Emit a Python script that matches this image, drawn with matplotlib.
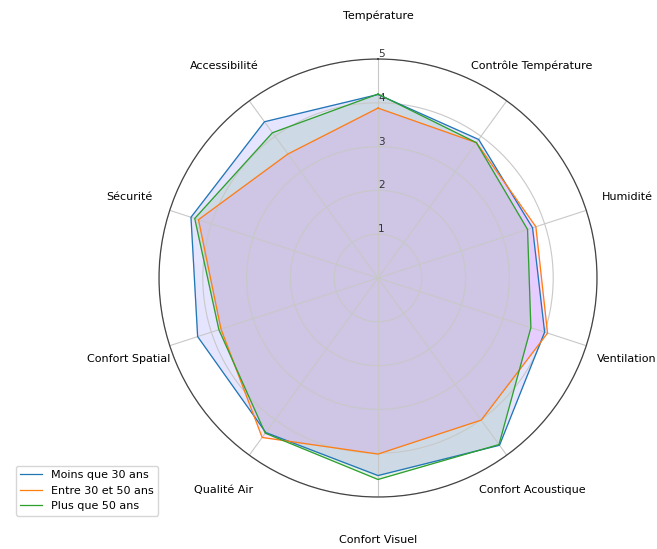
import numpy as np
import matplotlib
matplotlib.use('Agg')
from matplotlib import pyplot as plt

categories = ['Température', 'Contrôle Température', 'Humidité', 'Ventilation',
              'Confort Acoustique', 'Confort Visuel', 'Qualité Air',
              'Confort Spatial', 'Sécurité', 'Accessibilité']

moins_30 = [4.19, 3.91, 3.71, 4.00, 4.72, 4.51, 4.36, 4.33, 4.49, 4.41]
entre_30_50 = [3.88, 3.82, 3.79, 4.07, 4.01, 4.02, 4.50, 3.77, 4.31, 3.50]
plus_50 = [4.20, 3.82, 3.59, 3.67, 4.70, 4.60, 4.38, 3.82, 4.40, 4.10]

series = [('Moins que 30 ans', moins_30, 'blue'),
          ('Entre 30 et 50 ans', entre_30_50, 'magenta'),
          ('Plus que 50 ans', plus_50, 'green')]

n = len(categories)
angles = np.linspace(0, 2 * np.pi, n, endpoint=False).tolist()
angles_closed = angles + angles[:1]

fig = plt.figure(figsize=(6.57, 5.49), dpi=100)
ax = fig.add_axes([0.242, 0.0947, 0.6667, 0.7978], polar=True)
ax.set_theta_offset(np.pi / 2)
ax.set_theta_direction(-1)

for label, vals, fill_color in series:
    v = vals + vals[:1]
    ax.plot(angles_closed, v, linewidth=0.9, label=label)
    ax.fill(angles_closed, v, color=fill_color, alpha=0.1)

ax.set_ylim(0, 5)
ax.set_xticks(angles)
ax.set_xticklabels([])
ax.set_rlabel_position(0)
ax.set_yticks([1, 2, 3, 4, 5])
ax.set_yticklabels(['1', '2', '3', '4', '5'], fontsize=7.5, color='#333333')
ax.grid(color='#c8c8c8', linewidth=0.8)
ax.spines['polar'].set_color('#444444')
ax.spines['polar'].set_linewidth(0.9)

for ang, cat in zip(angles, categories):
    ax.text(ang, 5.98, cat, ha='center', va='center', fontsize=8)

fig.legend(loc='upper left', bbox_to_anchor=(0.0152, 0.162), fontsize=8)

fig.savefig('out.png', dpi=100)
